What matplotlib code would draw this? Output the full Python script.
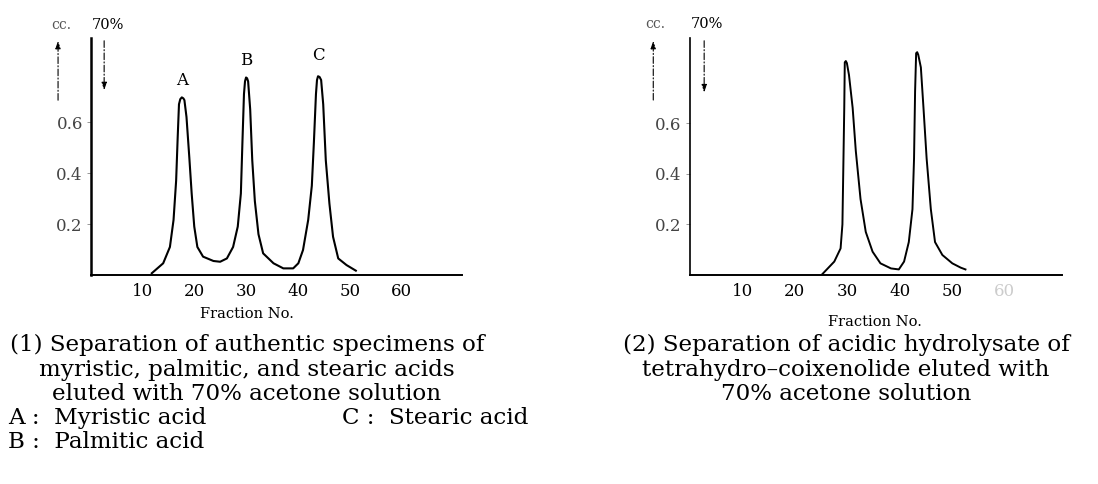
import matplotlib
matplotlib.use("Agg")
import matplotlib.pyplot as plt

# --- données ---
x_ticks = [10, 20, 30, 40, 50, 60]
y_ticks = [0.2, 0.4, 0.6]
y_tick_labels = ["0.2", "0.4", "0.6"]
x_tick_labels = ["10", "20", "30", "40", "50", "60"]

# (1) acides authentiques : A, B, C
frac_1 = [11.7, 13.9, 15.2, 15.9, 16.4, 16.7, 16.95, 17.2, 17.5, 17.8, 18.0, 18.4, 18.95,
          19.4, 19.9, 20.5, 21.6, 23.6, 24.9, 26.2, 27.4, 28.3, 28.9, 29.2, 29.5, 29.7,
          29.9, 30.1, 30.3, 30.7, 31.1, 31.6, 32.3, 33.2, 35.2, 37.1, 39.0, 40.0, 40.9,
          41.9, 42.6, 43.0, 43.4, 43.6, 43.8, 44.1, 44.4, 44.8, 45.3, 46.0, 46.7, 47.7,
          49.3, 51.1]
cc_1 = [0.007, 0.046, 0.11, 0.216, 0.37, 0.54, 0.67, 0.69, 0.697, 0.693, 0.686, 0.62, 0.46,
        0.32, 0.19, 0.11, 0.072, 0.055, 0.052, 0.065, 0.11, 0.19, 0.32, 0.52, 0.71, 0.76,
        0.775, 0.772, 0.76, 0.65, 0.45, 0.29, 0.16, 0.085, 0.046, 0.026, 0.026, 0.046, 0.098,
        0.216, 0.35, 0.52, 0.71, 0.765, 0.78, 0.777, 0.765, 0.67, 0.45, 0.28, 0.15, 0.065,
        0.039, 0.017]

# (2) hydrolysat acide du tétrahydro-coixénolide
frac_2 = [25.2, 27.5, 28.7, 29.05, 29.2, 29.4, 29.5, 29.7, 29.9, 30.3, 31.0, 31.6, 32.5,
          33.5, 34.8, 36.3, 38.3, 39.8, 40.8, 41.7, 42.4, 42.7, 42.9, 43.1, 43.3, 43.5,
          44.0, 44.5, 45.1, 45.9, 46.7, 48.1, 50.0, 51.6, 52.5]
cc_2 = [0.003, 0.053, 0.105, 0.20, 0.395, 0.66, 0.84, 0.845, 0.837, 0.79, 0.66, 0.49, 0.30,
        0.17, 0.092, 0.046, 0.026, 0.022, 0.053, 0.13, 0.26, 0.46, 0.725, 0.876, 0.88, 0.87,
        0.82, 0.66, 0.46, 0.26, 0.13, 0.079, 0.046, 0.029, 0.022]

peak_labels = ["A", "B", "C"]
peak_pos = [(17.5, 0.765), (29.9, 0.843), (43.8, 0.86)]

caption_1 = ["(1) Separation of authentic specimens of",
             "myristic, palmitic, and stearic acids",
             "eluted with 70% acetone solution"]
legend_1 = ["A :  Myristic acid", "C :  Stearic acid", "B :  Palmitic acid"]
caption_2 = ["(2) Separation of acidic hydrolysate of",
             "tetrahydro\u2013coixenolide eluted with",
             "70% acetone solution"]

W, H = 1098, 484
plt.rcParams['font.family'] = ["DejaVu Serif"]


def prepare_axe(fig, rect, xmax, ymax, lw_y):
    ax = fig.add_axes(rect)
    ax.set_xlim(0, xmax)
    ax.set_ylim(0, ymax)
    for s in ["top", "right"]:
        ax.spines[s].set_visible(False)
    ax.spines["left"].set_linewidth(lw_y)
    ax.spines["bottom"].set_linewidth(1.4)
    ax.set_xticks(x_ticks)
    ax.set_xticklabels(x_tick_labels, fontsize=12)
    ax.set_yticks(y_ticks)
    ax.set_yticklabels(y_tick_labels, fontsize=12, color="#444444")
    ax.tick_params(axis="x", length=0, pad=6)
    ax.tick_params(axis="y", length=3, width=0.6, pad=3, color="#888888")
    ax.patch.set_alpha(0)
    return ax


def fleches(ax, x_up, y_up0, x_down, y_down1, y_top, x_cc, x_70, y_txt):
    style = dict(arrowstyle="-|>,head_width=0.15,head_length=0.45",
                 color="black", lw=0.8, linestyle=(0, (6, 2, 1, 2)))
    ax.annotate("", xy=(x_up, y_top), xytext=(x_up, y_up0), annotation_clip=False,
                arrowprops=style)
    ax.annotate("", xy=(x_down, y_down1), xytext=(x_down, y_top), annotation_clip=False,
                arrowprops=style)
    ax.text(x_cc, y_txt, "cc.", fontsize=10, ha="center", va="center", color="#555555",
            clip_on=False)
    ax.text(x_70, y_txt, "70%", fontsize=10.5, ha="center", va="center", clip_on=False)


fig = plt.figure(figsize=(W / 100, H / 100), dpi=100)

# panneau 1
ax1 = prepare_axe(fig, [91.2 / W, 1 - 275 / H, (462 - 91.2) / W, (275 - 38) / H],
                  71.6, 0.93, 1.8)
ax1.plot(frac_1, cc_1, color="black", lw=1.5)
for lab, (px, py) in zip(peak_labels, peak_pos):
    ax1.text(px, py, lab, fontsize=12, ha="center", va="center")
fleches(ax1, -6.4, 0.675, 2.5, 0.714, 0.93, -5.7, 3.2, 0.98)

# panneau 2
ax2 = prepare_axe(fig, [690 / W, 1 - 275 / H, (1062 - 690) / W, (275 - 38) / H],
                  70.9, 0.936, 1.2)
ax2.plot(frac_2, cc_2, color="black", lw=1.4)
ax2.get_xticklabels()[-1].set_color("#cccccc")
fleches(ax2, -7.0, 0.68, 2.7, 0.71, 0.936, -6.7, 3.2, 0.99)

# titres d'axes
fig.text(247 / W, 1 - 314 / H, "Fraction No.", fontsize=10.5, ha="center", va="center")
fig.text(875 / W, 1 - 322 / H, "Fraction No.", fontsize=10.5, ha="center", va="center")

# légendes
ys = [345, 370, 394, 418, 442]
fs = 16.6
for t, y in zip(caption_1, ys):
    fig.text(247 / W, 1 - y / H, t, fontsize=fs, ha="center", va="center")
fig.text(8 / W, 1 - ys[3] / H, legend_1[0], fontsize=fs, ha="left", va="center")
fig.text(342 / W, 1 - ys[3] / H, legend_1[1], fontsize=fs, ha="left", va="center")
fig.text(8 / W, 1 - ys[4] / H, legend_1[2], fontsize=fs, ha="left", va="center")
for t, y in zip(caption_2, ys):
    fig.text(846 / W, 1 - y / H, t, fontsize=fs, ha="center", va="center")

fig.savefig("out.png", dpi=100)
